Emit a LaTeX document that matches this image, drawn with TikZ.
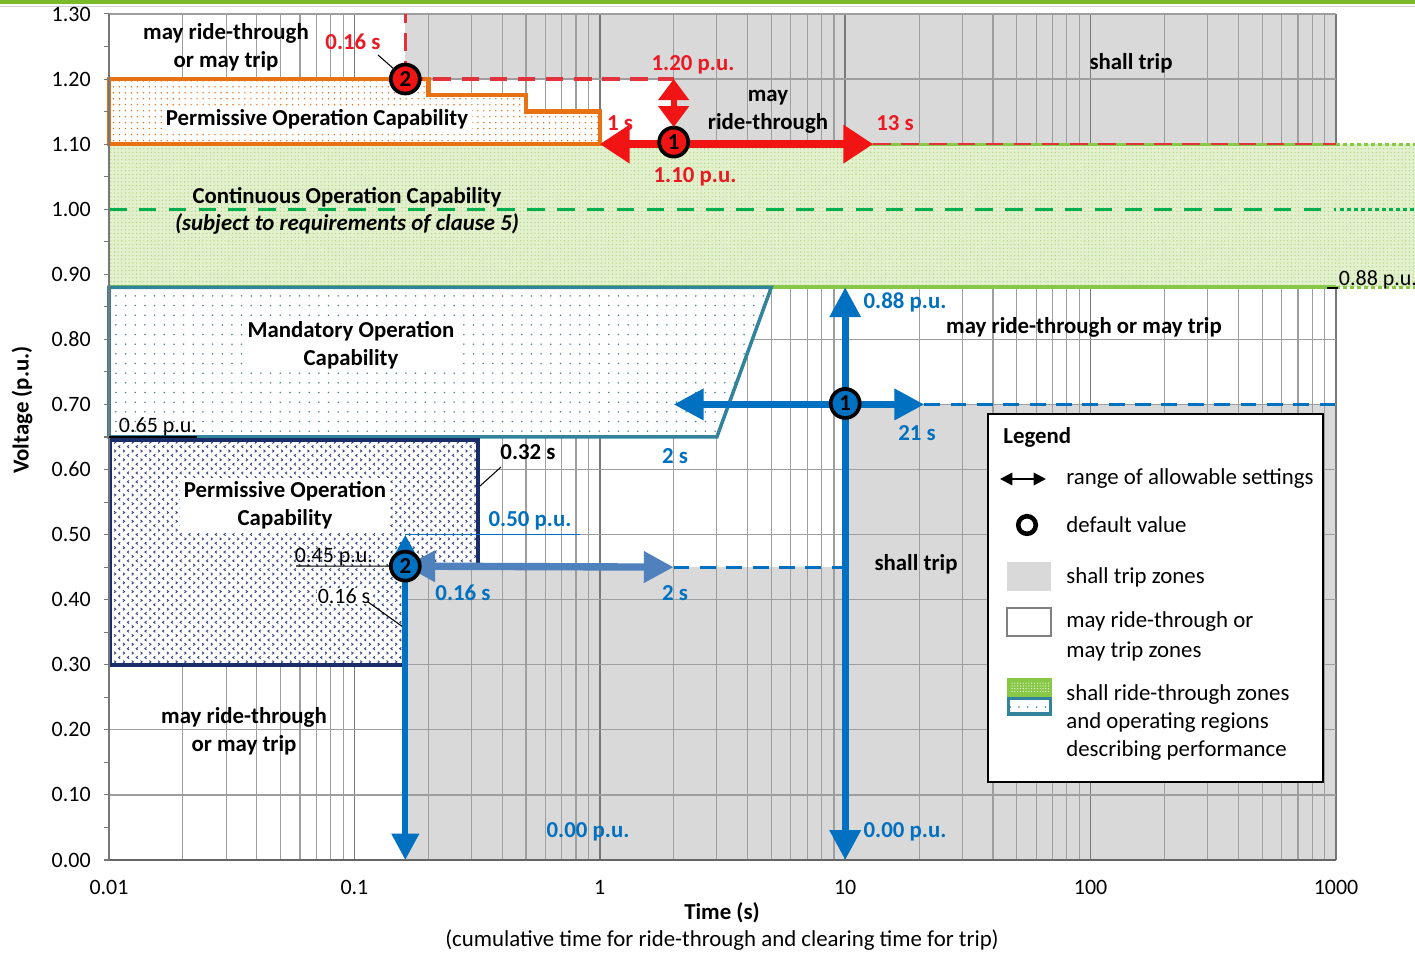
\documentclass[tikz,border=0pt]{standalone}
\usepackage{fontspec}
\setmainfont{Carlito}
\usetikzlibrary{arrows.meta,patterns,patterns.meta}
\definecolor{topgreen}{RGB}{122,185,41}
\definecolor{tripgray}{RGB}{217,217,217}
\definecolor{gridminor}{RGB}{158,158,158}
\definecolor{gridmajor}{RGB}{120,120,120}
\definecolor{greenfill}{RGB}{226,240,206}
\definecolor{greendot}{RGB}{170,214,120}
\definecolor{greenline}{RGB}{135,200,70}
\definecolor{greendash}{RGB}{0,176,80}
\definecolor{orangeC}{RGB}{232,113,20}
\definecolor{tealC}{RGB}{49,132,155}
\definecolor{navyC}{RGB}{25,45,105}
\definecolor{blueC}{RGB}{0,112,192}
\definecolor{steelC}{RGB}{79,129,189}
\definecolor{redC}{RGB}{240,20,20}
\definecolor{redD}{RGB}{228,50,60}
\definecolor{redT}{RGB}{235,25,35}
\pgfdeclarepatternformonly{chev}{\pgfqpoint{-0.5pt}{-0.5pt}}{\pgfqpoint{5.5pt}{5.5pt}}{\pgfqpoint{5pt}{5pt}}{%
  \pgfsetlinewidth{0.55pt}%
  \pgfpathmoveto{\pgfqpoint{0pt}{0pt}}\pgfpathlineto{\pgfqpoint{0.9pt}{0.7pt}}\pgfpathlineto{\pgfqpoint{0pt}{1.4pt}}\pgfusepath{stroke}%
  \pgfpathmoveto{\pgfqpoint{3.4pt}{2.5pt}}\pgfpathlineto{\pgfqpoint{2.5pt}{3.2pt}}\pgfpathlineto{\pgfqpoint{3.4pt}{3.9pt}}\pgfusepath{stroke}%
}
\begin{document}
\begin{tikzpicture}[x=0.02cm,y=-0.02cm,
  declare function={tx(\t)=109+245.4*(log10(\t)+2); vy(\v)=860-650.8*\v;},
  lab/.style={font=\fontsize{13}{16}\selectfont\bfseries, align=center, inner sep=1pt},
  rlab/.style={lab, text=redT},
  blab/.style={lab, text=blueC},
  nlab/.style={font=\fontsize{12.5}{15}\selectfont, inner sep=1pt},
  boxlab/.style={lab, fill=white, inner sep=2pt},
  leg/.style={font=\fontsize{13}{16}\selectfont, anchor=west, inner sep=0pt},
  tick/.style={font=\fontsize{12.5}{15}\selectfont, inner sep=0pt},
  marker/.style={circle, draw=black, line width=2.1pt, minimum size=16.5pt, inner sep=0pt, font=\fontsize{13}{13}\selectfont\bfseries},
  gminor/.style={draw=gridminor, line width=0.65pt},
  gmajor/.style={draw=gridmajor, line width=0.9pt},
  reddash/.style={draw=redD, line width=1.8pt, dash pattern=on 10pt off 6pt},
  bluedash/.style={draw=blueC, line width=1.8pt, dash pattern=on 9pt off 6pt},
  gdot/.style={line width=1.7pt, dash pattern=on 2.2pt off 1.8pt},
  leader/.style={draw=black, line width=0.6pt},
  redarrow/.style={draw=redC, line width=4.2pt, {Triangle[length=17pt,width=21pt]}-{Triangle[length=17pt,width=21pt]}},
  redvarrow/.style={draw=redC, line width=3.4pt, {Triangle[length=12pt,width=17pt]}-{Triangle[length=12pt,width=17pt]}},
  bluearrow/.style={draw=blueC, line width=3.9pt, {Triangle[length=17pt,width=17pt]}-{Triangle[length=17pt,width=17pt]}},
  steelarrow/.style={draw=steelC, line width=4.2pt, {Triangle[length=17pt,width=17pt]}-{Triangle[length=17pt,width=17pt]}}
]
\useasboundingbox (0,0) rectangle (1415,953);
\fill[white] (0,0) rectangle (1415,953);
% top band
\fill[topgreen] (0,0) rectangle (1415,4);
\draw[gray!35, line width=0.8pt] (0,6.5) -- (1415,6.5);
% shall trip zones
\fill[tripgray] ({tx(0.16)},14) rectangle (1336,{vy(1.2)});
\fill[tripgray] ({tx(2)},{vy(1.2)}) rectangle (1336,{vy(1.1)});
\fill[tripgray] ({tx(10)},{vy(0.7)}) rectangle (1336,860);
\fill[tripgray] ({tx(0.16)},{vy(0.45)}) rectangle ({tx(10)},860);
% grid
\foreach \d in {0,...,4}{\foreach \m in {2,...,9}{\draw[gminor] ({109+245.4*(\d+log10(\m))},14) -- ++(0,846);}}
\foreach \d in {1,...,5}{\draw[gmajor] ({109+245.4*\d},14) -- ++(0,846);}
\foreach \v in {1,...,13}{\draw[gminor] (109,{vy(\v/10)}) -- (1336,{vy(\v/10)});}
% continuous operation band
\path[preaction={fill=greenfill}, pattern={Dots[distance=2.1pt,radius=0.38pt]}, pattern color=greendot] (109,{vy(1.1)}) rectangle (1415,{vy(0.88)});
\draw[greenline, line width=1.8pt] (109,{vy(1.1)}) -- (1336,{vy(1.1)});
\draw[greenline, gdot] (1336,{vy(1.1)}) -- (1415,{vy(1.1)});
\draw[greenline, line width=2.2pt] (109,{vy(0.88)}) -- (1336,{vy(0.88)});
\draw[greenline, gdot] (1336,{vy(0.88)}) -- (1415,{vy(0.88)});
\draw[greendash, line width=1.9pt, dash pattern=on 10pt off 7pt] (109,{vy(1)}) -- (1336,{vy(1)});
\draw[greendash, gdot] (1340,{vy(1)}) -- (1415,{vy(1)});
% overvoltage permissive operation
\draw[orangeC, line width=2.4pt, preaction={fill=white}, pattern={Dots[distance=3.4pt,radius=0.45pt]}, pattern color=orangeC]
  (109,{vy(1.2)}) -- ({tx(0.2)},{vy(1.2)}) -- ({tx(0.2)},{vy(1.175)}) -- ({tx(0.5)},{vy(1.175)}) -- ({tx(0.5)},{vy(1.15)}) -- ({tx(1)},{vy(1.15)}) -- ({tx(1)},{vy(1.1)}) -- (109,{vy(1.1)}) -- cycle;
% mandatory operation
\draw[tealC, line width=2pt, preaction={fill=white}, pattern={Dots[distance=5.5pt,radius=0.5pt]}, pattern color=tealC!60!gray]
  (109,{vy(0.88)}) -- ({tx(5)},{vy(0.88)}) -- ({tx(3)},{vy(0.65)}) -- (109,{vy(0.65)}) -- cycle;
% undervoltage permissive operation
\draw[navyC, line width=2.3pt, preaction={fill=white}, pattern=chev, pattern color=navyC!85]
  (110,{vy(0.645)}) -- ({tx(0.32)},{vy(0.645)}) -- ({tx(0.32)},{vy(0.45)}) -- ({tx(0.16)},{vy(0.45)}) -- ({tx(0.16)},{vy(0.3)}) -- (110,{vy(0.3)}) -- cycle;
% axes
\draw[gridmajor, line width=0.9pt] (109,14) -- (109,860);
\draw[gray!80!black, line width=1.5pt] (109,860) -- (1336,860);
\foreach \k in {0,...,26}{\draw[gridmajor, line width=0.6pt] (104,{vy(\k/20)}) -- (109,{vy(\k/20)});}
% coordinates
\coordinate (c2r) at ({tx(0.16)},{vy(1.2)});
\coordinate (c1r) at ({tx(2)},{vy(1.1)-2});
\coordinate (c1b) at ({tx(10)},{vy(0.7)-1});
\coordinate (c2b) at ({tx(0.16)},{vy(0.45)-1});
\coordinate (rtop) at ({tx(0.16)},14);
\coordinate (r12e) at ({tx(2)},{vy(1.2)});
\coordinate (c1rtop) at ({tx(2)},{vy(1.1)-17});
\coordinate (r1s) at ({tx(1)},{vy(1.1)});
\coordinate (r13s) at ({tx(13)},{vy(1.1)});
\coordinate (rend) at (1336,{vy(1.1)});
\coordinate (b088) at ({tx(10)},{vy(0.88)});
\coordinate (b000) at ({tx(10)},860);
\coordinate (b2s) at ({tx(2)},{vy(0.7)});
\coordinate (b21s) at ({tx(21)},{vy(0.7)});
\coordinate (bend) at (1336,{vy(0.7)});
\coordinate (b050) at ({tx(0.16)},{vy(0.5)});
\coordinate (b050e) at (580,{vy(0.5)});
\coordinate (b000b) at ({tx(0.16)},860);
\coordinate (b2sb) at ({tx(2)},{vy(0.45)});
\coordinate (b10b) at ({tx(10)},{vy(0.45)});
% red dashed settings
\draw[reddash] (c2r) -- (rtop);
\draw[reddash] (c2r) -- (r12e);
\draw[reddash, line width=1.4pt] (r13s) -- (rend);
% blue dashed settings
\draw[bluedash] (b21s) -- (bend);
\draw[bluedash] (b2sb) -- (b10b);
\draw[blueC, line width=0.9pt] (b050) -- (b050e);
% labels (black)
\node[lab] (t1) at (226,47) {may ride-through\\or may trip};
\node[lab] (t2) at (1131,63) {shall trip};
\node[lab] (t3) at (768,112) {may\\ride-through};
\node[boxlab] (t4) at (317,119) {Permissive Operation Capability};
\node[lab] (t5) at (347,197) {Continuous Operation Capability};
\node[lab, font=\fontsize{13}{16}\selectfont\bfseries\itshape] (t6) at (347,224) {(subject to requirements of clause 5)};
\node[boxlab] (t7) at (351,345) {Mandatory Operation\\Capability};
\node[lab] (t8) at (1084,327) {may ride-through or may trip};
\node[boxlab] (t9) at (285,505) {Permissive Operation\\Capability};
\node[lab] (t10) at (916,564) {shall trip};
\node[lab] (t11) at (244,731) {may ride-through\\or may trip};
\node[lab] (t032) at (528,452) {0.32 s};
\node[nlab] (t065) at (158,427) {0.65 p.u.};
\node[nlab] (t045) at (334,557) {0.45 p.u.};
\node[nlab, fill=white, inner sep=0.5pt] (t016) at (344,596) {0.16 s};
\node[nlab] (t088) at (1378,280) {0.88 p.u.};
% leaders
\coordinate (l065a) at (109,{vy(0.65)});
\coordinate (l065b) at (197,{vy(0.65)});
\draw[leader] (l065a) -- (l065b);
\coordinate (l045a) at (296,566);
\draw[leader] (l045a) -- (c2b);
\coordinate (l016a) at (368,602);
\coordinate (l016b) at (403,627);
\draw[leader] (l016a) -- (l016b);
\coordinate (l032a) at (501,467);
\coordinate (l032b) at (480,486);
\draw[leader] (l032a) -- (l032b);
\coordinate (l088a) at (1327,{vy(0.88)+1});
\coordinate (l088b) at (1338,{vy(0.88)+1});
\draw[leader, line width=1pt] (l088a) -- (l088b);
\coordinate (l016ra) at (378,55);
\draw[leader] (l016ra) -- (c2r);
% red arrows
\draw[redvarrow] (r12e) -- (c1rtop);
\draw[redarrow] (r1s) -- (r13s);
% blue arrows
\draw[bluearrow] (b088) -- (b000);
\draw[bluearrow] (b2s) -- (b21s);
\draw[steelarrow] (c2b) -- (b2sb);
\draw[bluearrow, line width=3.4pt, {Triangle[length=14pt,width=14pt]}-{Triangle[length=15pt,width=15pt]}] (b050) -- (b000b);
% markers
\node[marker, fill=redC] (m2r) at (c2r) {2};
\node[marker, fill=redC] (m1r) at (c1r) {1};
\node[marker, fill=blueC] (m1b) at (c1b) {1};
\node[marker, fill=blueC] (m2b) at (c2b) {2};
% red labels
\node[rlab] (r016) at (353,42) {0.16 s};
\node[rlab] (r120) at (693,65) {1.20 p.u.};
\node[rlab] (r1) at (620,123) {1 s};
\node[rlab] (r13) at (895,123) {13 s};
\node[rlab] (r110) at (695,177) {1.10 p.u.};
% blue labels
\node[blab] (b088l) at (905,302) {0.88 p.u.};
\node[blab] (b21l) at (917,433) {21 s};
\node[blab] (b2l) at (675,456) {2 s};
\node[blab] (b050l) at (530,521) {0.50 p.u.};
\node[blab] (b016l) at (463,593) {0.16 s};
\node[blab] (b2lb) at (675,593) {2 s};
\node[blab] (b000l) at (588,832) {0.00 p.u.};
\node[blab] (b000l2) at (905,832) {0.00 p.u.};
% axis labels
\foreach \k/\s in {0/0.00,1/0.10,2/0.20,3/0.30,4/0.40,5/0.50,6/0.60,7/0.70,8/0.80,9/0.90,10/1.00,11/1.10,12/1.20,13/1.30}{
  \node[tick, anchor=east] (yt\k) at (91,{vy(\k/10)}) {\s};}
\foreach \d/\s in {0/0.01,1/0.1,2/1,3/10,4/100,5/1000}{
  \node[tick] (xt\d) at ({109+245.4*\d},887) {\s};}
\node[lab] (xlab) at (722,913) {Time (s)};
\node[nlab, font=\fontsize{13}{16}\selectfont] (xsub) at (722,940) {(cumulative time for ride-through and clearing time for trip)};
\node[lab, rotate=90] (ylab) at (22,410) {Voltage (p.u.)};
% legend
\draw[black, line width=1.3pt, fill=white] (988,414) rectangle (1323,782);
\node[leg, font=\fontsize{13}{16}\selectfont\bfseries] (legT) at (1003,437) {Legend};
\coordinate (la1) at (1000,479);
\coordinate (la2) at (1046,479);
\draw[black, line width=1.3pt, {Triangle[length=7pt,width=7pt]}-{Triangle[length=7pt,width=7pt]}] (la1) -- (la2);
\node[leg] (leg1) at (1066,479) {range of allowable settings};
\node[circle, draw=black, line width=2.6pt, minimum size=10pt, inner sep=0pt] (legc) at (1027,525) {};
\node[leg] (leg2) at (1066,525) {default value};
\fill[tripgray] (1007,562) rectangle (1051,591);
\node[leg] (leg3) at (1066,577) {shall trip zones};
\draw[gray, line width=0.8pt] (1007,608) rectangle (1051,636);
\node[leg] (leg4) at (1066,622) {may ride-through or};
\node[leg] (leg4b) at (1066,651) {may trip zones};
\fill[greenline] (1007,678) rectangle (1052,697);
\path[pattern={Dots[distance=1.6pt,radius=0.35pt]}, pattern color=white] (1010,682) rectangle (1049,693);
\fill[tealC] (1007,697) rectangle (1052,716);
\fill[white] (1010,700) rectangle (1049,712);
\path[pattern={Dots[distance=5pt,radius=0.5pt]}, pattern color=tealC] (1010,700) rectangle (1049,712);
\node[leg] (leg5) at (1066,695) {shall ride-through zones};
\node[leg] (leg5b) at (1066,723) {and operating regions};
\node[leg] (leg5c) at (1066,751) {describing performance};
\end{tikzpicture}
\end{document}
